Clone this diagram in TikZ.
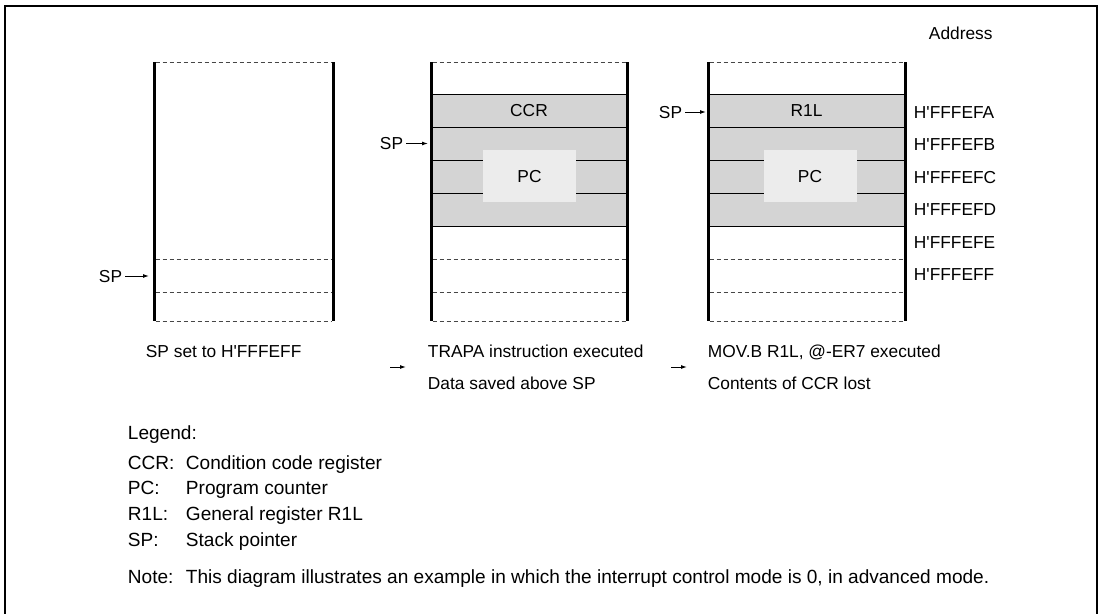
\documentclass[tikz,border=0pt]{standalone}
\usepackage{fontspec}
\setmainfont{Liberation Sans}
\usetikzlibrary{arrows.meta,positioning}
\definecolor{stkgray}{RGB}{212,212,212}
\definecolor{pcgray}{RGB}{236,236,236}
\definecolor{dashgray}{RGB}{70,70,70}
\newcommand{\hq}{\textquotesingle}

\begin{document}
\begin{tikzpicture}[x=0.75pt, y=-0.75pt,
  txt/.style={inner sep=2pt, font=\fontsize{13}{15}\selectfont,
    text height=9.4pt, text depth=0.4pt},
  lbl/.style={txt, anchor=west},
  legtxt/.style={lbl, font=\fontsize{14.3}{17}\selectfont,
    text height=10.3pt, text depth=0.1pt},
  wall/.style={line width=2.25pt},
  slot/.style={line width=0.75pt},
  free/.style={dashgray, line width=0.75pt, dash pattern=on 3pt off 2.25pt},
  ptr/.style={-{Latex[length=4.5pt,width=3pt]}, line width=0.75pt}]
\useasboundingbox (0,0) rectangle (1100,614);

% outer frame (open at the bottom)
\draw[line width=1.5pt] (5,614) -- (5,6) -- (1097,6) -- (1097,614);

% stack before the exception
\foreach \y in {62,259,292,321}
  \draw[free] (155.5,\y) -- (331.5,\y);
\draw[wall] (154,62) -- (154,321);
\draw[wall] (333,62) -- (333,321);

% stacks after TRAPA and after MOV.B
\foreach \xl/\xr in {431/627, 708/905} {
  \fill[stkgray] (\xl,94) rectangle (\xr,226);
  \foreach \y in {94,127,160,193,226}
    \draw[slot] (\xl,\y) -- (\xr,\y);
  \foreach \y in {62,259,292,321}
    \draw[free] (\xl+1.5,\y) -- (\xr-1.5,\y);
}
\node[txt, fill=pcgray, minimum width=69.75pt, minimum height=39pt] (pcB) at (529.5,176) {PC};
\node[txt, fill=pcgray, minimum width=69.75pt, minimum height=39pt] (pcC) at (810,176) {PC};
\node[txt] (ccrB) at (529,110.5) {CCR};
\node[txt] (rllC) at (806.5,110.5) {R1L};
\foreach \x in {431,627,708,905}
  \draw[wall] (\x,62) -- (\x,321);

% stack pointer marks
\node[txt, anchor=east] (spA) at (125,276) {SP};
\coordinate (spAtip) at (149,276);
\draw[ptr] (spA) -- (spAtip);
\node[txt, anchor=east] (spB) at (406,143.5) {SP};
\coordinate (spBtip) at (428,143.5);
\draw[ptr] (spB) -- (spBtip);
\node[txt, anchor=east] (spC) at (685,112) {SP};
\coordinate (spCtip) at (706,112);
\draw[ptr] (spC) -- (spCtip);

% addresses
\node[lbl] (adrhead) at (926,33) {Address};
\foreach \a [count=\i] in {FA,FB,FC,FD,FE,FF}
  \node[lbl] (adr\a) at (911,79.5+32.5*\i) {H\hq FFFE\a};

% captions
\node[lbl] (capA) at (143,351) {SP set to H\hq FFFEFF};
\node[lbl] (capB) at (425,351) {TRAPA instruction executed};
\node[lbl] (capBb) at (425,383) {Data saved above SP};
\node[lbl] (capC) at (705,351) {MOV.B R1L, @-ER7 executed};
\node[lbl] (capCb) at (705,383) {Contents of CCR lost};
\coordinate (stepAa) at (390,367);
\coordinate (stepAb) at (406,367);
\coordinate (stepBa) at (671,367);
\coordinate (stepBb) at (687,367);
\draw[ptr] (stepAa) -- (stepAb);
\draw[ptr] (stepBa) -- (stepBb);

% legend
\node[legtxt] (leg) at (125,433) {Legend:};
\node[legtxt] (legccr) at (125,463) {CCR:};
\node[legtxt] (legpc) at (125,488) {PC:};
\node[legtxt] (legrl) at (125,514) {R1L:};
\node[legtxt] (legsp) at (125,540) {SP:};
\node[legtxt] (txtccr) at (183,463) {Condition code register};
\node[legtxt] (txtpc) at (183,488) {Program counter};
\node[legtxt] (txtrl) at (183,514) {General register R1L};
\node[legtxt] (txtsp) at (183,540) {Stack pointer};
\node[legtxt] (note) at (125,577) {Note:};
\node[legtxt] (notetxt) at (183,577) {This diagram illustrates an example in which the interrupt control mode is 0, in advanced mode.};
\end{tikzpicture}
\end{document}
